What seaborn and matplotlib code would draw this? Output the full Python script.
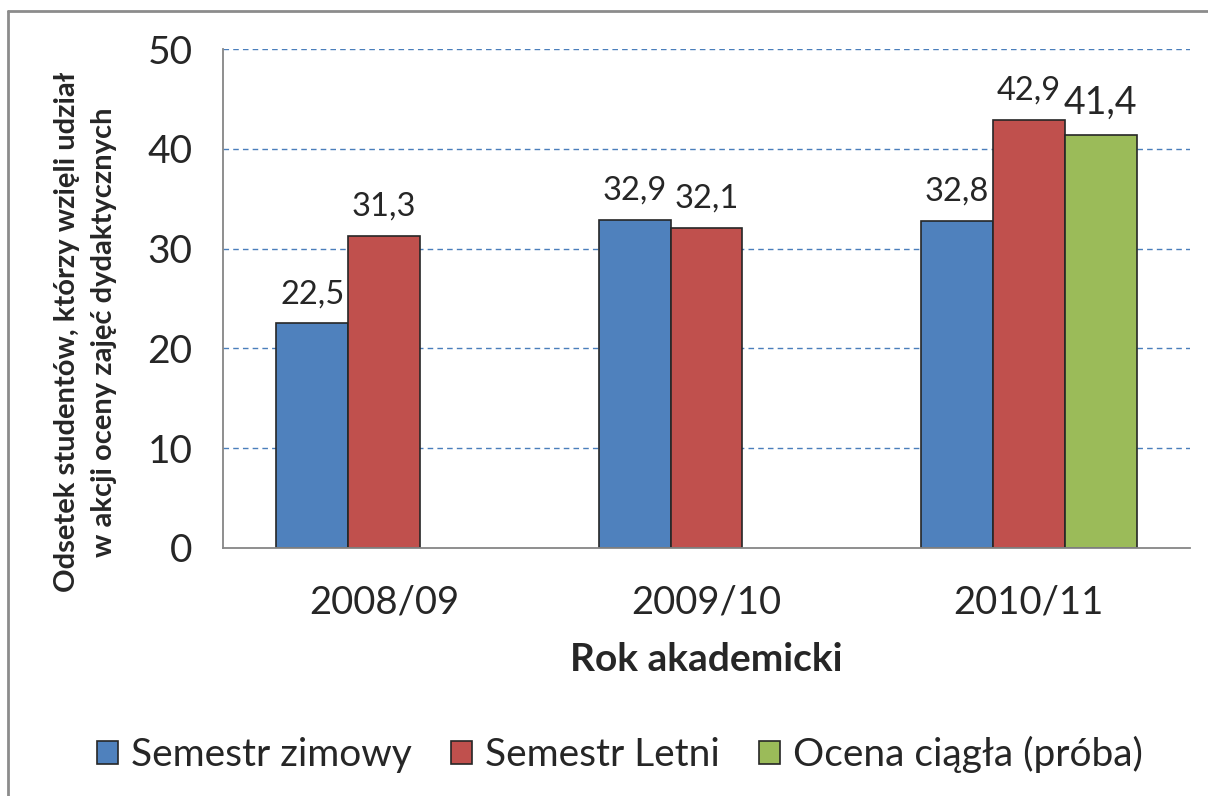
import pandas as pd
import matplotlib.pyplot as plt
import seaborn as sns
from matplotlib.lines import Line2D

sns.set_style("white")
plt.rcParams["font.family"] = ["Lato", "DejaVu Sans"]

# dane
lata = ["2008/09", "2009/10", "2010/11"]
semestr_zimowy = [22.5, 32.9, 32.8]
semestr_letni = [31.3, 32.1, 42.9]
ocena_ciagla = [None, None, 41.4]
serie = ["Semestr zimowy", "Semestr Letni", "Ocena ciągła (próba)"]
kolory = ["#4F81BD", "#C0504D", "#9BBB59"]

rows = []
for nazwa, vals in zip(serie, [semestr_zimowy, semestr_letni, ocena_ciagla]):
    for rok, v in zip(lata, vals):
        if v is not None:
            rows.append({"rok": rok, "seria": nazwa, "odsetek": v})
df = pd.DataFrame(rows)

fig = plt.figure(figsize=(12.08, 7.96), dpi=100)
ax = fig.add_axes([223 / 1208, 1 - 548 / 796, (1190 - 223) / 1208, (548 - 49) / 796])

sns.barplot(data=df, x="rok", y="odsetek", hue="seria", hue_order=serie,
            order=lata, palette=kolory, width=0.67, edgecolor="#262626",
            linewidth=1.2, saturation=1, ax=ax)

ax.legend_.remove()
ax.set_xlim(-0.5, 2.5)
ax.set_ylim(0, 50)
ax.set_yticks(range(0, 51, 10))

# siatka
for y in range(10, 51, 10):
    ax.axhline(y, color="#4A7EBB", linestyle=(0, (4, 3)), linewidth=1.0, zorder=0)

for sp in ["top", "right"]:
    ax.spines[sp].set_visible(False)
for sp in ["left", "bottom"]:
    ax.spines[sp].set_color("#868686")
    ax.spines[sp].set_linewidth(1.3)

ax.tick_params(axis="y", direction="out", length=14, width=1.3, color="#868686",
               labelsize=28, pad=8)
ax.set_xticks([-0.5, 0.5, 1.5, 2.5], minor=True)
ax.tick_params(axis="x", which="minor", direction="out", length=14, width=1.3,
               color="#868686")
ax.tick_params(axis="x", which="major", length=0, labelsize=27.5, pad=26)

fmt = lambda v: f"{v:.1f}".replace(".", ",")
for i, cont in enumerate(ax.containers):
    labels = ax.bar_label(cont, fmt=fmt, padding=10, fontsize=23.5)
    if i == 2:
        for t in labels:
            t.set_fontsize(27)

ax.set_xlabel("Rok akademicki", fontsize=28, fontweight="bold", labelpad=16)
ax.set_ylabel("Odsetek studentów, którzy wzięli udział\nw akcji oceny zajęć dydaktycznych",
              fontsize=21, fontweight="bold", linespacing=1.5)
ax.yaxis.set_label_coords((117 - 223) / 967, 0.433)

handles = [plt.Rectangle((0, 0), 1, 1, facecolor=c, edgecolor="#262626", linewidth=1.2)
           for c in kolory]
fig.legend(handles, serie, loc="center", bbox_to_anchor=(0.513, 0.052), ncol=3,
           frameon=False, fontsize=28, handlelength=0.55, handleheight=0.55,
           handletextpad=0.33, columnspacing=1.0)

# ramka wykresu
fig.add_artist(Line2D([8 / 1208, 8 / 1208], [0, 1 - 11 / 796], color="#8c8c8c",
                      linewidth=2, transform=fig.transFigure))
fig.add_artist(Line2D([8 / 1208, 1], [1 - 11 / 796, 1 - 11 / 796], color="#8c8c8c",
                      linewidth=2, transform=fig.transFigure))

plt.savefig("out.png", dpi=100)
plt.close()
